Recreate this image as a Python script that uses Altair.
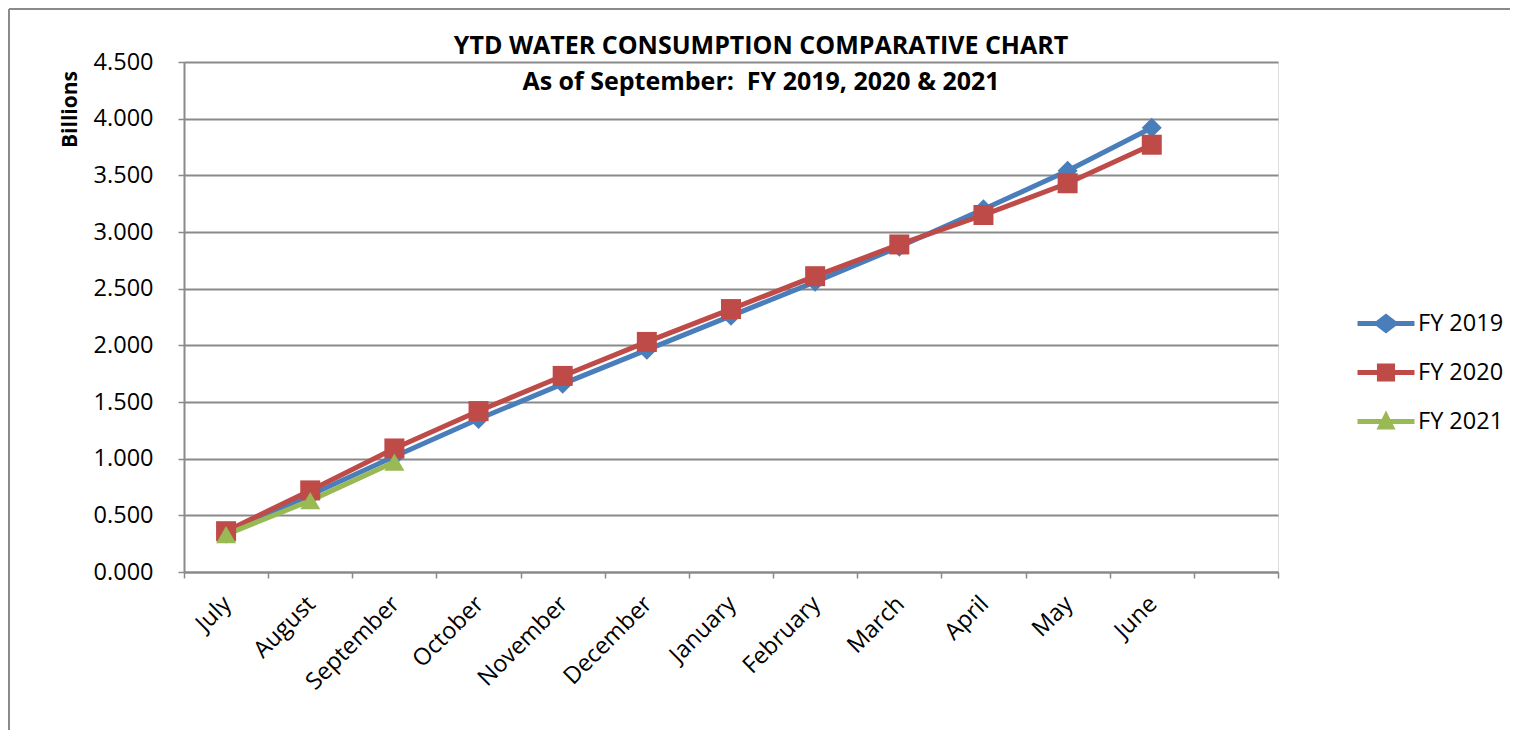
import altair as alt
import pandas as pd

months = ["July", "August", "September", "October", "November", "December",
          "January", "February", "March", "April", "May", "June"]
blank_slot = " "
fy2019 = [0.34, 0.68, 1.02, 1.35, 1.66, 1.96, 2.26, 2.56, 2.87, 3.20, 3.54, 3.92]
fy2020 = [0.36, 0.72, 1.09, 1.42, 1.73, 2.03, 2.32, 2.61, 2.89, 3.15, 3.43, 3.77]
fy2021 = [0.33, 0.63, 0.97]
series_names = ["FY 2019", "FY 2020", "FY 2021"]
series_colors = ["#4A7EBB", "#BE4B48", "#98B954"]
point_shapes = ["diamond", "square", "triangle-up"]
legend_paths = [
    "M-1.163,-0.102L1.163,-0.102L1.163,0.102L-1.163,0.102Z M0,-0.41L0.53,0L0,0.41L-0.53,0Z",
    "M-1.163,-0.102L1.163,-0.102L1.163,0.102L-1.163,0.102Z M-0.37,-0.37L0.37,-0.37L0.37,0.37L-0.37,0.37Z",
    "M-1.163,-0.102L1.163,-0.102L1.163,0.102L-1.163,0.102Z M0,-0.45L0.39,0.33L-0.39,0.33Z",
]
y_ticks = [0.0, 0.5, 1.0, 1.5, 2.0, 2.5, 3.0, 3.5, 4.0, 4.5]
title_line1 = "YTD WATER CONSUMPTION COMPARATIVE CHART"
title_line2 = "As of September:\u00a0\u00a0FY 2019, 2020 & 2021"

rows = []
for name, vals in zip(series_names, [fy2019, fy2020, fy2021]):
    for i, v in enumerate(vals):
        rows.append({"month": months[i], "value": v, "series": name})
df = pd.DataFrame(rows)

GRAY = "#8A8A8A"
FONT = "Open Sans"
W, H = 1094, 510

x_enc = alt.X(
    "month:N",
    sort=months + [blank_slot],
    scale=alt.Scale(type="band", domain=months + [blank_slot], paddingInner=0, paddingOuter=0),
    axis=alt.Axis(
        title=None, labelAngle=-45, labelAlign="right", labelBaseline="middle",
        labelFontSize=23.5, labelFont=FONT, labelColor="black", labelOffset=1,
        labelPadding=22, tickBand="extent", tickSize=6, tickColor=GRAY, tickWidth=1.5,
        domainColor=GRAY, domainWidth=2, grid=False,
    ),
)
y_enc = alt.Y(
    "value:Q",
    scale=alt.Scale(domain=[0, 4.5], nice=False, zero=True),
    axis=alt.Axis(
        values=y_ticks, format=".3f", title="Billions", titleFont=FONT,
        titleFontSize=21, titleFontWeight="bold", titleColor="black",
        titleX=-114, titleY=47, titleAngle=-90, titleAlign="center", titleBaseline="middle",
        labelFontSize=23.5, labelFont=FONT, labelColor="black", labelPadding=25,
        tickSize=6, tickColor=GRAY, tickWidth=1.5, domainColor=GRAY, domainWidth=2,
        grid=True, gridColor=GRAY, gridWidth=2,
    ),
)

color_scale = alt.Scale(domain=series_names, range=series_colors)

lines = alt.Chart(df).mark_line(strokeWidth=5).encode(
    x=x_enc, y=y_enc,
    color=alt.Color("series:N", scale=color_scale, legend=None),
    order=alt.Order("series:N"),
)

points = alt.Chart(df).mark_point(filled=True, opacity=1, size=400).encode(
    x=x_enc, y=y_enc,
    color=alt.Color("series:N", scale=color_scale, legend=None),
    shape=alt.Shape("series:N", scale=alt.Scale(domain=series_names, range=point_shapes), legend=None),
)

legend_kw = dict(
    title=None, orient="none", legendX=1177.5, legendY=237, padding=0,
    symbolSize=2401, symbolStrokeWidth=0, symbolOpacity=1,
    labelFont=FONT, labelFontSize=23.5, labelColor="black", labelOffset=7.5,
    rowPadding=13,
)
legend_layer = alt.Chart(df).mark_point(filled=True).encode(
    x=x_enc, y=y_enc,
    color=alt.Color("series:N", scale=color_scale, legend=alt.Legend(**legend_kw)),
    shape=alt.Shape("series:N", scale=alt.Scale(domain=series_names, range=legend_paths),
                    legend=alt.Legend(**legend_kw)),
).transform_filter("false")

one_row = alt.Data(values=[{"k": 1}])
top_rule = alt.Chart(one_row).mark_rule(color=GRAY, strokeWidth=2).encode(
    x=alt.value(-175), x2=alt.value(W + 260), y=alt.value(-53)
)
left_rule = alt.Chart(one_row).mark_rule(color=GRAY, strokeWidth=2).encode(
    x=alt.value(-175), y=alt.value(-53), y2=alt.value(H + 200)
)
title1 = alt.Chart(one_row).mark_text(
    font=FONT, fontSize=25, fontWeight="bold", color="black", align="center", baseline="middle"
).encode(x=alt.value(577), y=alt.value(-16), text=alt.value(title_line1))
title2 = alt.Chart(one_row).mark_text(
    font=FONT, fontSize=25, fontWeight="bold", color="black", align="center", baseline="middle"
).encode(x=alt.value(577), y=alt.value(20), text=alt.value(title_line2))

chart = alt.layer(top_rule, left_rule, lines, points, legend_layer, title1, title2).resolve_scale(
    color="independent", shape="independent"
).properties(
    width=W, height=H,
    autosize=alt.AutoSizeParams(type="none"),
    padding={"left": 176, "top": 54, "right": 232, "bottom": 158},
).configure_view(stroke=None).configure(background="white")

chart.save("out.html", embed_options={"renderer": "svg", "actions": False})
